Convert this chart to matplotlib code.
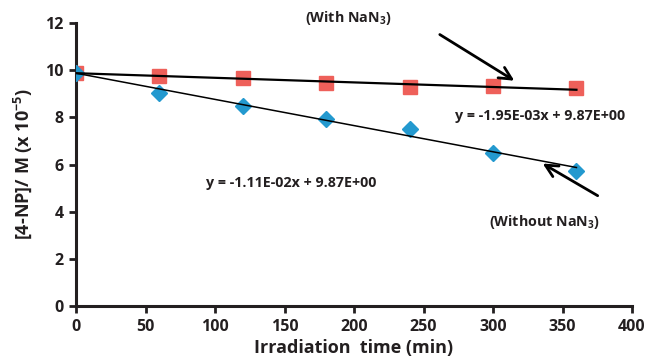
import numpy as np
import matplotlib.pyplot as plt

# irradiation time (min) and [4-NP] concentration (x 1e-5 M)
time_min = [0, 60, 120, 180, 240, 300, 360]
with_nan3 = [9.87, 9.75, 9.67, 9.45, 9.28, 9.32, 9.24]
without_nan3 = [9.87, 9.04, 8.47, 7.95, 7.50, 6.50, 5.72]

# linear fits (slope, intercept)
fit_with = (-1.95e-03, 9.87)
fit_without = (-1.11e-02, 9.87)

plt.rcParams["font.family"] = ["Open Sans", "DejaVu Sans"]
plt.rcParams["font.weight"] = "bold"
plt.rcParams["mathtext.fontset"] = "custom"
plt.rcParams["mathtext.rm"] = "Open Sans:bold"
plt.rcParams["mathtext.bf"] = "Open Sans:bold"
plt.rcParams["mathtext.default"] = "bf"

fig = plt.figure(figsize=(6.52, 3.64), dpi=100)
ax = fig.add_axes([0.1166, 0.159, 0.8528, 0.778])

dark = "#231f20"

ax.plot(time_min, with_nan3, "s", color="#ee605a", markersize=10, zorder=3)
ax.plot(time_min, without_nan3, "D", color="#2399cf", markersize=8, zorder=3)

xx = np.array([0, 360])
ax.plot(xx, fit_with[0] * xx + fit_with[1], color="black", lw=1.6, zorder=4)
ax.plot(xx, fit_without[0] * xx + fit_without[1], color="black", lw=1.1, zorder=4)

ax.set_xlim(0, 400)
ax.set_ylim(0, 12)
ax.set_xticks(range(0, 401, 50))
ax.set_yticks(range(0, 13, 2))

for side in ["top", "right"]:
    ax.spines[side].set_visible(False)
for side in ["left", "bottom"]:
    ax.spines[side].set_linewidth(2.2)
    ax.spines[side].set_color(dark)
ax.tick_params(direction="out", length=5, width=2, color=dark,
               labelsize=11.5, labelcolor=dark, pad=4)
for lab in ax.get_xticklabels() + ax.get_yticklabels():
    lab.set_fontweight("bold")

ax.set_xlabel("Irradiation  time (min)", fontsize=13, fontweight="bold",
              color=dark, labelpad=3)
ax.set_ylabel("[4-NP]/ M (x 10$^{-5}$)", fontsize=13, fontweight="bold",
              color=dark, labelpad=8)

txt = dict(fontsize=10.3, fontweight="bold", color=dark, ha="center", va="center")
ax.text(196, 12.2, "(With NaN$_{3}$)", clip_on=False, **txt)
ax.text(334, 8.05, "y = -1.95E-03x + 9.87E+00", **txt)
ax.text(155, 5.21, "y = -1.11E-02x + 9.87E+00", **txt)
ax.text(337, 3.56, "(Without NaN$_{3}$)", **txt)

arrow = dict(arrowstyle="->", color="black", lw=2, mutation_scale=22)
ax.annotate("", xy=(317, 9.49), xytext=(260, 11.57), arrowprops=arrow,
            annotation_clip=False)
ax.annotate("", xy=(334, 6.10), xytext=(377, 4.62), arrowprops=arrow)

fig.savefig("out.png", dpi=100)
